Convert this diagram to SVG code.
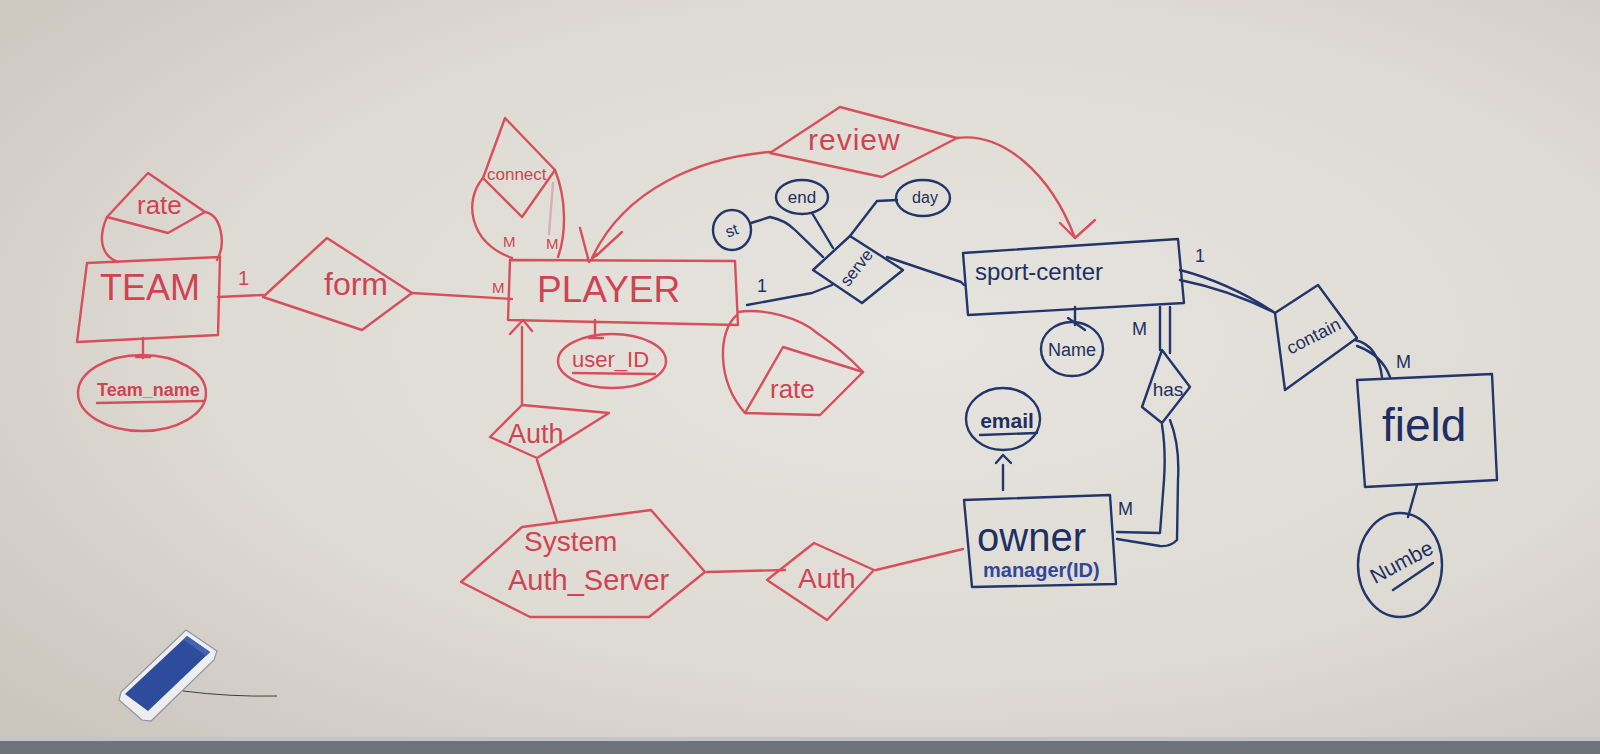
<svg xmlns="http://www.w3.org/2000/svg" width="1600" height="754" viewBox="0 0 1600 754">
<defs>
<radialGradient id="bg" cx="0.58" cy="0.45" r="0.75">
<stop offset="0" stop-color="#e6e4de"/>
<stop offset="0.6" stop-color="#dedbd4"/>
<stop offset="1" stop-color="#cbc6be"/>
</radialGradient>
<style>
.r{fill:none;stroke:#d84f5c;stroke-width:2.4;stroke-linecap:round;stroke-linejoin:round}
.b{fill:none;stroke:#22366b;stroke-width:2.4;stroke-linecap:round;stroke-linejoin:round}
.tr{fill:#cf4352;font-family:"Liberation Sans","DejaVu Sans",sans-serif}
.tb{fill:#1e2f62;font-family:"Liberation Sans","DejaVu Sans",sans-serif}
</style>
</defs>
<rect x="0" y="0" width="1600" height="754" fill="url(#bg)"/>
<rect x="0" y="737" width="1600" height="4" fill="#c4c6c6"/>
<rect x="0" y="741" width="1600" height="13" fill="#6d7378"/>

<g id="connectors">
<path class="r" d="M218,297 L263,295"/>
<path class="r" d="M412,293 L512,299"/>
<path class="r" d="M143,338 L143,358 M136,357 L150,357"/>
<path class="r" d="M107,217 C99,235 99,255 118,262"/>
<path class="r" d="M205,212 C222,215 226,245 217,260"/>
<path class="r" d="M483,178 C464,200 468,242 512,258"/>
<path class="r" d="M555,170 C567,200 566,235 558,257"/>
<path class="r" d="M553,183 L549,234" stroke-opacity="0.35" stroke-width="4"/>
<path class="r" d="M770,152 C700,158 625,188 592,258"/>
<path class="r" d="M580,228 L589,262 L597,254 M622,232 L596,256" stroke-width="3"/>
<path class="r" d="M957,138 C1002,132 1050,172 1075,238"/>
<path class="r" d="M1060,223 L1075,238 L1095,220"/>
<path class="r" d="M595,320 L595,338 M589,338 L603,338"/>
<path class="r" d="M738,312 C765,308 800,318 817,333 C835,345 850,358 863,372"/>
<path class="r" d="M737,315 C718,330 716,380 745,413"/>
<path class="r" d="M522,405 L522,327"/>
<path class="r" d="M510,334 L523,320 L532,331"/>
<path class="r" d="M537,460 Q547,490 557,522"/>
<path class="r" d="M707,572 L785,570"/>
<path class="r" d="M876,570 L963,549"/>
<path class="b" d="M751,223 L770,217 Q785,220 795,230 L823,257"/>
<path class="b" d="M812,213 L833,248"/>
<path class="b" d="M897,200 L877,201 L850,236"/>
<path class="b" d="M832,285 L812,293 L747,305"/>
<path class="b" d="M887,257 L961,282 L964,285"/>
<path class="b" d="M1075,307 L1075,325 M1068,318 L1085,330"/>
<path class="b" d="M1160,307 L1160,350 M1170,307 L1170,353"/>
<path class="b" d="M1162,425 Q1166,450 1164,480 L1160,533 L1117,532"/>
<path class="b" d="M1170,420 Q1180,445 1178,480 L1177,540 Q1170,547 1160,546 L1117,539"/>
<path class="b" d="M1003,490 L1003,465 M996,463 L1003,455 L1011,463"/>
<path class="b" d="M1180,270 Q1230,283 1275,313 M1180,280 Q1230,290 1275,313"/>
<path class="b" d="M1355,340 Q1378,345 1382,377 M1357,346 Q1382,355 1390,377"/>
<path class="b" d="M1417,485 L1408,517"/>
</g>

<g id="labels">
<text class="tr" x="238" y="285" font-size="20">1</text>
<text class="tr" x="492" y="293" font-size="15">M</text>
<text class="tr" x="503" y="247" font-size="15">M</text>
<text class="tr" x="546" y="249" font-size="15">M</text>
<text class="tb" x="757" y="292" font-size="18">1</text>
<text class="tb" x="1195" y="262" font-size="18">1</text>
<text class="tb" x="1132" y="335" font-size="18">M</text>
<text class="tb" x="1118" y="515" font-size="18">M</text>
<text class="tb" x="1396" y="368" font-size="18">M</text>
</g>

<g id="team">
<path class="r" d="M87,263 L220,257 L218,335 L77,342 Z"/>
<text class="tr" x="100" y="300" font-size="36">TEAM</text>
</g>
<g id="rate-team">
<path class="r" d="M148,173 L205,212 L168,233 L107,217 Z"/>
<text class="tr" x="137" y="214" font-size="26">rate</text>
</g>
<g id="team-name">
<ellipse class="r" cx="142" cy="393" rx="64" ry="38"/>
<text class="tr" x="97" y="396" font-size="18" font-weight="bold">Team_name</text>
<path class="r" d="M97,403 L204,401"/>
</g>
<g id="form">
<path class="r" d="M263,297 L327,238 L412,293 L362,330 Z"/>
<text class="tr" x="324" y="295" font-size="32">form</text>
</g>
<g id="player">
<path class="r" d="M510,260 L735,261 L738,325 L508,320 Z"/>
<text class="tr" x="537" y="302" font-size="37">PLAYER</text>
</g>
<g id="connect">
<path class="r" d="M505,118 L555,170 L522,217 L483,178 Z"/>
<text class="tr" x="487" y="180" font-size="17">connect</text>
</g>
<g id="review">
<path class="r" d="M840,107 L957,138 L882,177 L770,153 Z"/>
<text class="tr" x="808" y="150" font-size="30" letter-spacing="1">review</text>
</g>
<g id="user-id">
<ellipse class="r" cx="612" cy="361" rx="54" ry="27"/>
<text class="tr" x="572" y="367" font-size="22">user_ID</text>
<path class="r" d="M573,373 L655,374"/>
</g>
<g id="rate-player">
<path class="r" d="M783,347 L863,372 L820,415 L745,413 Z"/>
<text class="tr" x="770" y="398" font-size="26">rate</text>
</g>
<g id="auth-player">
<path class="r" d="M522,405 L609,413 L537,458 L490,437 Z"/>
<text class="tr" x="508" y="443" font-size="27">Auth</text>
</g>
<g id="auth-server">
<path class="r" d="M461,582 L522,527 L651,510 L705,572 L649,617 L530,617 Z"/>
<text class="tr" x="524" y="551" font-size="28">System</text>
<text class="tr" x="508" y="590" font-size="29">Auth_Server</text>
</g>
<g id="auth-owner">
<path class="r" d="M767,580 L814,543 L874,570 L827,620 Z"/>
<text class="tr" x="798" y="588" font-size="28">Auth</text>
</g>
<g id="serve">
<path class="b" d="M813,270 L850,236 L903,270 L862,303 Z"/>
<text class="tb" x="857" y="273" font-size="17" text-anchor="middle" transform="rotate(-52 857 268)">serve</text>
</g>
<g id="st">
<ellipse class="b" cx="732" cy="230" rx="19" ry="20"/>
<text class="tb" x="732" y="236" font-size="16" text-anchor="middle" transform="rotate(-20 732 231)">st</text>
</g>
<g id="end">
<ellipse class="b" cx="802" cy="197" rx="26" ry="17"/>
<text class="tb" x="802" y="203" font-size="17" text-anchor="middle">end</text>
</g>
<g id="day">
<ellipse class="b" cx="923" cy="198" rx="27" ry="18"/>
<text class="tb" x="925" y="203" font-size="16" text-anchor="middle">day</text>
</g>
<g id="sport-center">
<path class="b" d="M963,253 L1178,239 L1184,303 L968,315 Z"/>
<text class="tb" x="975" y="280" font-size="24">sport-center</text>
</g>
<g id="name">
<ellipse class="b" cx="1072" cy="349" rx="31" ry="27"/>
<text class="tb" x="1072" y="356" font-size="18" text-anchor="middle">Name</text>
</g>
<g id="has">
<path class="b" d="M1162,350 L1190,387 L1162,423 L1142,407 Z"/>
<text class="tb" x="1168" y="396" font-size="19" text-anchor="middle">has</text>
</g>
<g id="email">
<ellipse class="b" cx="1003" cy="419" rx="37" ry="31"/>
<text class="tb" x="1007" y="428" font-size="21" font-weight="bold" text-anchor="middle">email</text>
<path class="b" d="M980,435 L1037,433"/>
</g>
<g id="owner">
<path class="b" d="M964,500 L1110,495 L1116,584 L972,587 Z"/>
<text class="tb" x="977" y="551" font-size="40">owner</text>
<text x="983" y="577" font-size="20" font-weight="bold" fill="#33479a" font-family="Liberation Sans, sans-serif">manager(ID)</text>
</g>
<g id="contain">
<path class="b" d="M1275,313 L1318,285 L1357,338 L1285,390 Z"/>
<text class="tb" x="1314" y="342" font-size="18" text-anchor="middle" transform="rotate(-27 1314 337)">contain</text>
</g>
<g id="field">
<path class="b" d="M1357,380 L1492,374 L1497,480 L1365,487 Z"/>
<text class="tb" x="1382" y="441" font-size="46">field</text>
</g>
<g id="number">
<ellipse class="b" cx="1400" cy="565" rx="42" ry="52"/>
<text class="tb" x="1402" y="569" font-size="21" text-anchor="middle" transform="rotate(-28 1402 563)">Numbe</text>
<path class="b" d="M1393,590 L1433,563" stroke="#3c4f9c" stroke-width="3"/>
</g>

<g id="eraser">
<path d="M186,630 L217,651 L214,660 L151,721 L142,720 L119,700 L121,692 Z" fill="#eceef0" stroke="#8f959d" stroke-width="1.2"/>
<path d="M187,636 L210,652 L148,711 L125,694 Z" fill="#2e4c9c"/>
<path d="M187,636 L210,652 L206,656 L184,640 Z" fill="#4562b0"/>
<path d="M183,691 Q230,697 277,696" fill="none" stroke="#3a3f48" stroke-width="1"/>
</g>
</svg>
